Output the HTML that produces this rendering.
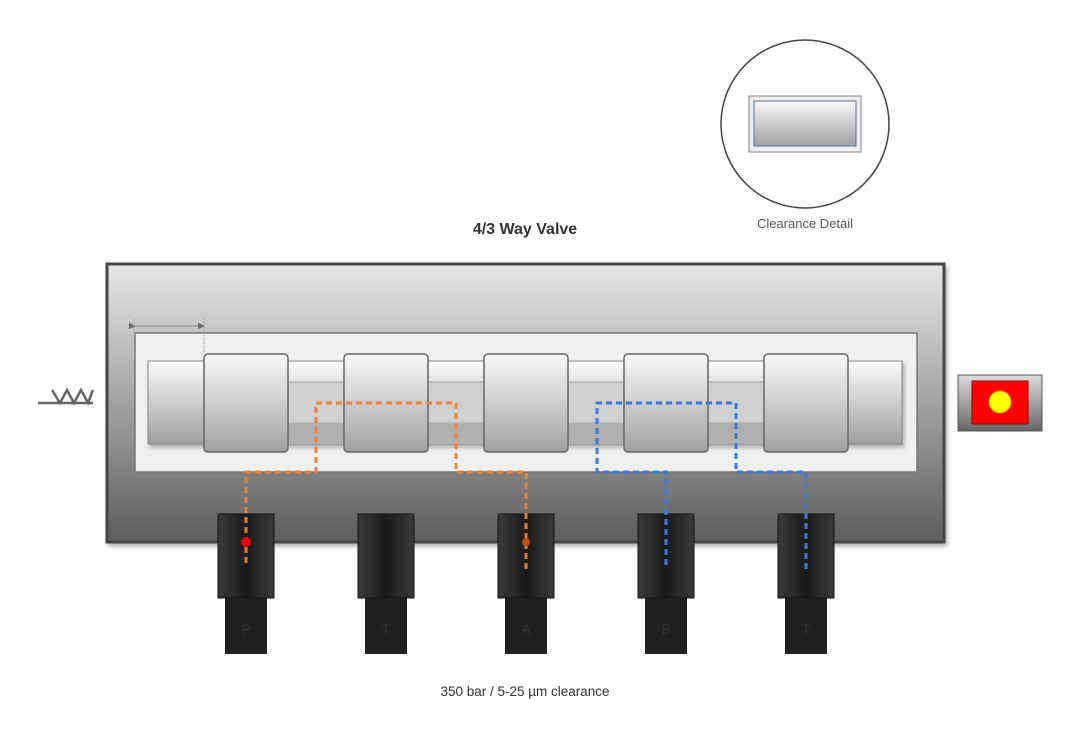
<!DOCTYPE html>
<html><head><meta charset="utf-8"><style>
body{margin:0;background:#fff;}
svg{display:block;font-family:"Liberation Sans",sans-serif;}
</style></head><body>
<svg width="1071" height="755" viewBox="0 0 1071 755" xmlns="http://www.w3.org/2000/svg">
<defs>
<linearGradient id="body" x1="0" y1="0" x2="0" y2="1"><stop offset="0" stop-color="#e6e6e6"/><stop offset="1" stop-color="#5e5e5e"/></linearGradient>
<linearGradient id="metal" x1="0" y1="0" x2="0" y2="1"><stop offset="0" stop-color="#fafafa"/><stop offset="1" stop-color="#a0a0a0"/></linearGradient>
<linearGradient id="port" x1="0" y1="0" x2="1" y2="0"><stop offset="0" stop-color="#3a3a3a"/><stop offset="0.5" stop-color="#1a1a1a"/><stop offset="1" stop-color="#3a3a3a"/></linearGradient>
<linearGradient id="ind" x1="0" y1="0" x2="0" y2="1"><stop offset="0" stop-color="#dcdcdc"/><stop offset="1" stop-color="#666"/></linearGradient>
<filter id="sh" x="-5%" y="-5%" width="110%" height="115%"><feDropShadow dx="2" dy="3" stdDev="3" flood-opacity="0.3"/></filter>
</defs>

<circle cx="805" cy="124" r="84" fill="#fff" stroke="#444" stroke-width="1.5"/>
<rect x="749" y="96" width="112" height="56" fill="#eee" stroke="#888" stroke-width="1"/>
<rect x="754" y="101" width="102" height="45" fill="url(#metal)" stroke="#5a6f9a" stroke-width="1"/>
<text x="805" y="228" font-size="13" fill="#555" text-anchor="middle">Clearance Detail</text>

<text x="525" y="234" font-size="16" font-weight="bold" fill="#333" text-anchor="middle">4/3 Way Valve</text>

<rect x="107" y="264" width="837" height="278" fill="url(#body)" stroke="#444" stroke-width="3" filter="url(#sh)"/>
<rect x="135" y="333" width="782" height="139" fill="#f0f0f0" stroke="#777" stroke-width="1.5"/>
<rect x="148" y="361" width="754" height="83" fill="url(#metal)" stroke="#888" stroke-width="1" filter="url(#sh)"/>
<rect x="288" y="382" width="476" height="41" fill="#d0d0d0" stroke="#aaa" stroke-width="1"/>
<rect x="288" y="423" width="476" height="21" fill="#b0b0b0"/>
<g fill="url(#metal)" stroke="#666" stroke-width="1.5">
<rect x="204" y="354" width="84" height="98" rx="4"/>
<rect x="344" y="354" width="84" height="98" rx="4"/>
<rect x="484" y="354" width="84" height="98" rx="4"/>
<rect x="624" y="354" width="84" height="98" rx="4"/>
<rect x="764" y="354" width="84" height="98" rx="4"/>
</g>
<line x1="129" y1="326" x2="204" y2="326" stroke="#888" stroke-width="1"/>
<polygon points="129,323 136,326 129,329" fill="#666"/>
<polygon points="198,323 205,326 198,329" fill="#666"/>
<line x1="134" y1="319" x2="134" y2="333" stroke="#999" stroke-dasharray="1,1"/>
<line x1="204" y1="319" x2="204" y2="354" stroke="#999" stroke-dasharray="1,1"/>

<path d="M38,403 H93 M52,390 L60,403 L67,390 L74,403 L81,390 L88,403 L93,390" fill="none" stroke="#666" stroke-width="2.5"/>

<rect x="958" y="375" width="84" height="56" fill="url(#ind)" stroke="#555" stroke-width="1"/>
<rect x="972" y="381" width="56" height="43" fill="#f00" stroke="#900" stroke-width="1"/>
<circle cx="1000" cy="402" r="11" fill="#ff0" stroke="#e0a000" stroke-width="1"/>

<g>
<rect x="218" y="514" width="56" height="84" fill="url(#port)" stroke="#111" stroke-width="1"/>
<rect x="225" y="598" width="42" height="56" fill="#202020"/>
<rect x="358" y="514" width="56" height="84" fill="url(#port)" stroke="#111" stroke-width="1"/>
<rect x="365" y="598" width="42" height="56" fill="#202020"/>
<rect x="498" y="514" width="56" height="84" fill="url(#port)" stroke="#111" stroke-width="1"/>
<rect x="505" y="598" width="42" height="56" fill="#202020"/>
<rect x="638" y="514" width="56" height="84" fill="url(#port)" stroke="#111" stroke-width="1"/>
<rect x="645" y="598" width="42" height="56" fill="#202020"/>
<rect x="778" y="514" width="56" height="84" fill="url(#port)" stroke="#111" stroke-width="1"/>
<rect x="785" y="598" width="42" height="56" fill="#202020"/>
</g>
<g font-size="14" fill="#333" text-anchor="middle">
<text x="246" y="634">P</text><text x="386" y="634">T</text><text x="526" y="634">A</text><text x="666" y="634">B</text><text x="806" y="634">T</text>
</g>

<path d="M246,563 V472 H316 V403 H456 V472 H526 V570" fill="none" stroke="#f08030" stroke-width="3" stroke-dasharray="6,4" opacity="0.95"/>
<path d="M666,565 V472 H597 V403 H736 V472 H806 V570" fill="none" stroke="#3a7be0" stroke-width="3" stroke-dasharray="6,4"/>
<circle cx="246" cy="542" r="5" fill="#e00"/>
<circle cx="526" cy="542" r="4" fill="#c05010"/>

<text x="525" y="696" font-size="13.5" fill="#333" text-anchor="middle">350 bar / 5-25 µm clearance</text>
</svg>
</body></html>
